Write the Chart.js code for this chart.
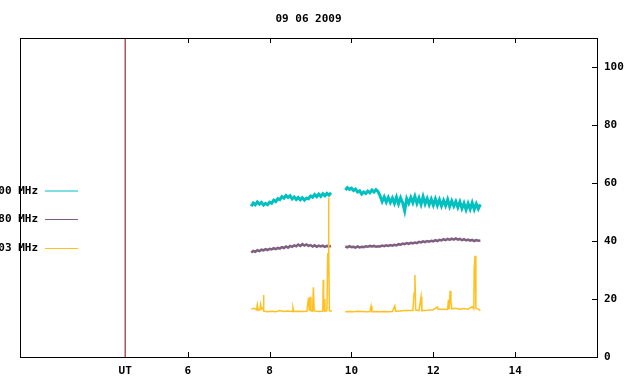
<!DOCTYPE html>
<html>
<head>
<meta charset="utf-8">
<script src="https://cdn.jsdelivr.net/npm/chart.js@4/dist/chart.umd.min.js"></script>
<style>
  html, body { margin: 0; padding: 0; background: #fff; }
  #wrap { width: 640px; height: 384px; position: relative; }
</style>
</head>
<body>
<div id="wrap"><canvas id="radioChart"></canvas></div>
<script>
// --- data (UT hours / flux units) ---
const chartTitle = "09 06 2009";
const seriesNames = ["2800 MHz", "1280 MHz", "1003 MHz"];

const timesA = [7.55, 7.60, 7.65, 7.70, 7.75, 7.80, 7.85, 7.90, 7.95, 8.00,
  8.05, 8.10, 8.15, 8.20, 8.25, 8.30, 8.35, 8.40, 8.45, 8.50,
  8.55, 8.60, 8.65, 8.70, 8.75, 8.80, 8.85, 8.90, 8.95, 9.00,
  9.05, 9.10, 9.15, 9.20, 9.25, 9.30, 9.35, 9.40, 9.45, 9.50];
const timesB = [9.85, 9.90, 9.95, 10.00, 10.05, 10.10, 10.15, 10.20, 10.25, 10.30,
  10.35, 10.40, 10.45, 10.50, 10.55, 10.60, 10.65, 10.70, 10.75, 10.80,
  10.85, 10.90, 10.95, 11.00, 11.05, 11.10, 11.15, 11.20, 11.25, 11.30,
  11.35, 11.40, 11.45, 11.50, 11.55, 11.60, 11.65, 11.70, 11.75, 11.80,
  11.85, 11.90, 11.95, 12.00, 12.05, 12.10, 12.15, 12.20, 12.25, 12.30,
  12.35, 12.40, 12.45, 12.50, 12.55, 12.60, 12.65, 12.70, 12.75, 12.80,
  12.85, 12.90, 12.95, 13.00, 13.05, 13.10, 13.15];
const gapTime = 9.68;

const tealA = [52.0, 53.1, 52.5, 53.5, 52.7, 53.3, 52.4, 53.0, 52.5, 53.4,
  53.0, 54.1, 53.6, 54.6, 54.3, 55.3, 54.8, 55.7, 55.0, 55.6,
  54.5, 55.2, 54.3, 55.0, 54.2, 54.9, 54.1, 54.8, 54.6, 55.5,
  55.1, 56.0, 55.3, 56.2, 55.4, 56.3, 55.6, 56.4, 55.8, 56.6];
const tealB = [57.6, 58.4, 57.8, 58.2, 57.4, 57.9, 56.9, 57.3, 56.2, 56.9,
  56.4, 57.2, 56.6, 57.6, 56.9, 57.7, 57.0, 55.5, 53.6, 55.2,
  53.4, 55.0, 53.3, 54.8, 53.0, 55.1, 52.8, 54.9, 53.2, 50.4,
  54.6, 53.0, 55.0, 53.2, 55.4, 53.0, 54.8, 52.6, 55.3, 52.8,
  54.6, 52.5, 54.4, 52.4, 54.5, 52.3, 54.2, 52.1, 54.0, 52.2,
  54.3, 51.9, 53.8, 52.0, 53.6, 51.6, 53.5, 51.2, 53.0, 50.8,
  52.9, 51.0, 53.2, 50.9, 52.8, 51.1, 52.6];

const purpleA = [36.0, 36.6, 36.3, 36.8, 36.5, 37.0, 36.8, 37.2, 36.9, 37.3,
  37.1, 37.5, 37.2, 37.6, 37.4, 37.9, 37.6, 38.1, 37.7, 38.3,
  38.0, 38.5, 38.2, 38.8, 38.3, 38.9, 38.4, 38.8, 38.3, 38.6,
  38.1, 38.5, 38.0, 38.4, 38.1, 38.4, 38.0, 38.3, 38.1, 38.3];
const purpleB = [38.1, 37.8, 38.2, 37.9, 38.0, 37.7, 38.1, 37.8, 38.0, 37.9,
  38.2, 38.0, 38.3, 38.1, 38.3, 38.0, 38.2, 38.1, 38.4, 38.2,
  38.5, 38.3, 38.6, 38.4, 38.7, 38.5, 38.9, 38.7, 39.1, 38.9,
  39.3, 39.0, 39.4, 39.2, 39.5, 39.3, 39.7, 39.5, 39.9, 39.6,
  40.0, 39.8, 40.1, 39.9, 40.3, 40.0, 40.4, 40.2, 40.6, 40.3,
  40.7, 40.4, 40.8, 40.5, 40.9, 40.5, 40.7, 40.3, 40.6, 40.2,
  40.5, 40.1, 40.4, 40.0, 40.3, 40.1, 40.2];

// yellow channel has its own (irregular) sample times because of the spikes
const goldTimes = [7.55, 7.62, 7.68, 7.70, 7.72, 7.76, 7.78, 7.80, 7.84, 7.85,
  7.86, 7.95, 8.05, 8.15, 8.25, 8.35, 8.45, 8.55, 8.57, 8.59,
  8.70, 8.80, 8.91, 8.93, 8.95, 8.97, 8.99, 9.01, 9.05, 9.07,
  9.09, 9.20, 9.30, 9.31, 9.32, 9.33, 9.35, 9.40, 9.42, 9.43,
  9.44, 9.45, 9.46, 9.52,
  9.68,
  9.85, 9.95, 10.05, 10.15, 10.25, 10.35, 10.45, 10.48, 10.50, 10.60,
  10.70, 10.80, 10.90, 11.00, 11.06, 11.08, 11.20, 11.30, 11.40, 11.50,
  11.53, 11.55, 11.57, 11.65, 11.70, 11.72, 11.85, 12.00, 12.10, 12.12,
  12.25, 12.35, 12.37, 12.39, 12.41, 12.43, 12.45, 12.55, 12.65, 12.75,
  12.85, 12.95, 12.99, 13.00, 13.02, 13.04, 13.10, 13.15];
const goldValues = [16.5, 16.8, 16.3, 18.0, 16.0, 16.2, 18.1, 16.5, 17.0, 21.4,
  15.8, 15.6, 15.8, 15.6, 16.0, 15.7, 15.9, 15.7, 17.0, 15.7,
  15.8, 15.7, 15.8, 18.0, 20.4, 15.9, 20.8, 15.9, 15.8, 24.0,
  15.9, 15.7, 15.8, 26.6, 16.0, 20.0, 15.8, 16.0, 35.6, 35.6,
  55.0, 35.4, 16.0, 15.8,
  null,
  15.6, 15.7, 15.6, 15.8, 15.7, 15.6, 15.7, 17.6, 15.6, 15.7,
  15.6, 15.7, 15.6, 15.7, 17.6, 15.8, 15.9, 16.0, 16.0, 16.0,
  22.0, 28.3, 16.2, 16.0, 20.8, 16.0, 16.1, 16.3, 17.3, 16.5,
  16.5, 16.4, 19.7, 16.5, 22.8, 19.5, 16.6, 16.8, 16.5, 16.7,
  16.5, 17.3, 16.6, 30.4, 34.9, 16.8, 16.5, 16.0];

const utMarker = 4.47;
const xTickValues = [utMarker, 6, 8, 10, 12, 14];
const xTickLabels = ["UT", "6", "8", "10", "12", "14"];
const yTickValues = [0, 20, 40, 60, 80, 100];

// --- build point lists for the linear x axis ---
function joinSegments(tA, vA, tB, vB) {
  const pts = tA.map((t, i) => ({ x: t, y: vA[i] }));
  pts.push({ x: gapTime, y: null });
  tB.forEach((t, i) => pts.push({ x: t, y: vB[i] }));
  return pts;
}

const tealPts = joinSegments(timesA, tealA, timesB, tealB);
const purplePts = joinSegments(timesA, purpleA, timesB, purpleB);
const goldPts = goldTimes.map((t, i) => ({ x: t, y: goldValues[i] }));

const tealColor = "#00c0c0";
const purpleColor = "#7f5f80";
const goldColor = "#ffc020";

const FONT = { family: "'DejaVu Sans Mono', monospace", size: 11, weight: "bold" };
const LEGEND_Y = [191, 219.5, 248.5];

// --- frame, inward ticks, title and legend like gnuplot ---
const gnuplotDeco = {
  id: "gnuplotDeco",
  afterDraw(chart) {
    const ctx = chart.ctx;
    const a = chart.chartArea;
    const xs = chart.scales.x;
    const ys = chart.scales.y;
    ctx.save();
    ctx.strokeStyle = "#000";
    ctx.lineWidth = 1;
    ctx.strokeRect(Math.round(a.left) + 0.5, Math.round(a.top) + 0.5,
      Math.round(a.right - a.left), Math.round(a.bottom - a.top));

    ctx.beginPath();
    xTickValues.slice(1).forEach((v) => {
      const px = Math.round(xs.getPixelForValue(v)) + 0.5;
      ctx.moveTo(px, a.bottom);
      ctx.lineTo(px, a.bottom - 5);
      ctx.moveTo(px, a.top);
      ctx.lineTo(px, a.top + 5);
    });
    yTickValues.slice(1).forEach((v) => {
      const py = Math.round(ys.getPixelForValue(v)) + 0.5;
      ctx.moveTo(a.right, py);
      ctx.lineTo(a.right - 5, py);
    });
    ctx.stroke();

    ctx.fillStyle = "#000";
    ctx.font = "bold 11px 'DejaVu Sans Mono', monospace";
    ctx.textAlign = "center";
    ctx.textBaseline = "middle";
    ctx.fillText(chartTitle, (a.left + a.right) / 2, 19);

    // legend (left part clipped by the canvas edge, as in the original)
    const colors = [tealColor, purpleColor, goldColor];
    ctx.textAlign = "right";
    seriesNames.forEach((name, i) => {
      ctx.fillStyle = "#000";
      ctx.fillText(name, 38, LEGEND_Y[i]);
      ctx.strokeStyle = colors[i];
      ctx.beginPath();
      ctx.moveTo(45, LEGEND_Y[i]);
      ctx.lineTo(78, LEGEND_Y[i]);
      ctx.stroke();
    });
    ctx.restore();
  },
};

const ctxRadio = document.getElementById("radioChart").getContext("2d");
new Chart(ctxRadio, {
  type: "line",
  data: {
    datasets: [
      {
        label: seriesNames[2],
        data: goldPts,
        borderColor: goldColor,
        borderWidth: 1.5,
        order: 0,
      },
      {
        label: seriesNames[1],
        data: purplePts,
        borderColor: purpleColor,
        borderWidth: 2.5,
        order: 1,
      },
      {
        label: seriesNames[0],
        data: tealPts,
        borderColor: tealColor,
        borderWidth: 3,
        order: 2,
      },
      {
        label: "UT",
        data: [{ x: utMarker, y: 0 }, { x: utMarker, y: 110 }],
        borderColor: "#8b0000",
        borderWidth: 1,
        order: 3,
      },
    ],
  },
  options: {
    responsive: true,
    maintainAspectRatio: false,
    animation: false,
    elements: { point: { radius: 0 }, line: { tension: 0 } },
    spanGaps: false,
    layout: { padding: { top: 38, left: 20, right: 0, bottom: 0 } },
    plugins: { legend: { display: false }, tooltip: { enabled: false }, title: { display: false } },
    scales: {
      x: {
        type: "linear",
        position: "bottom",
        min: 1.9,
        max: 16,
        grid: { display: false, drawTicks: false },
        border: { display: false },
        ticks: {
          color: "#000",
          font: FONT,
          padding: 8,
          maxRotation: 0,
          autoSkip: false,
          callback: (v) => {
            const i = xTickValues.indexOf(v);
            return i >= 0 ? xTickLabels[i] : "";
          },
        },
        afterBuildTicks: (s) => { s.ticks = xTickValues.map((v) => ({ value: v })); },
        afterFit: (s) => { s.height = 27; },
      },
      y: {
        position: "right",
        min: 0,
        max: 110,
        grid: { display: false, drawTicks: false },
        border: { display: false },
        ticks: { color: "#000", font: FONT, padding: 7 },
        afterBuildTicks: (s) => { s.ticks = yTickValues.map((v) => ({ value: v })); },
        afterFit: (s) => { s.width = 43; },
      },
    },
  },
  plugins: [gnuplotDeco],
});
</script>
</body>
</html>
